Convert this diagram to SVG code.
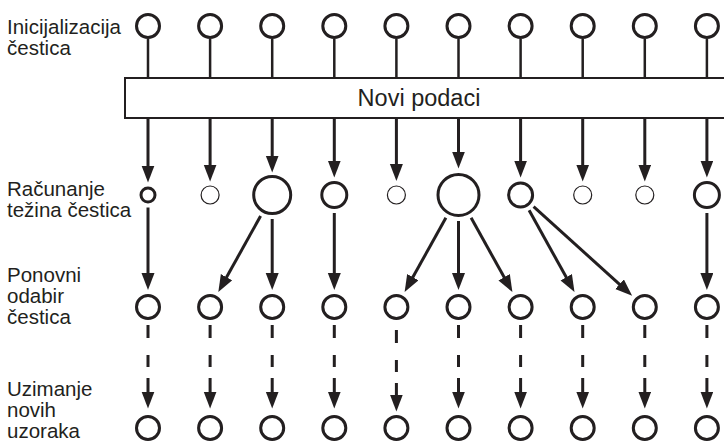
<svg xmlns="http://www.w3.org/2000/svg" width="724" height="444" viewBox="0 0 724 444">
<style>
.lbl{font-family:"Liberation Sans",Arial,sans-serif;font-size:20.5px;fill:#231f20}
.box{fill:#fff;stroke:#231f20;stroke-width:2}
.boxt{font-family:"Liberation Sans",Arial,sans-serif;font-size:23.5px;fill:#231f20;text-anchor:middle}
.p{fill:#fff;stroke:#231f20;stroke-width:3}
.pt{fill:#fff;stroke:#231f20;stroke-width:1.2}
.c{stroke:#231f20;stroke-width:3;fill:none}
.cs{stroke:#231f20;stroke-width:2.5;fill:none}
.a{stroke:#231f20;stroke-width:3;fill:none;marker-end:url(#ah)}
.d{stroke:#231f20;stroke-width:3;fill:none;stroke-dasharray:13 17 12 11 60;marker-end:url(#ah)}
</style>
<defs>
<marker id="ah" markerUnits="userSpaceOnUse" markerWidth="18" markerHeight="14" refX="9" refY="6.5" orient="auto" viewBox="0 0 18 14">
<path d="M0,0 L17,6.5 L0,13 z" fill="#231f20"/>
</marker>
</defs>
<rect width="724" height="444" fill="#fff"/>
<g id="labels">
<text class="lbl" x="7" y="34">Inicijalizacija</text>
<text class="lbl" x="7" y="55">čestica</text>
<text class="lbl" x="7" y="196">Računanje</text>
<text class="lbl" x="7" y="217">težina čestica</text>
<text class="lbl" x="7" y="282">Ponovni</text>
<text class="lbl" x="7" y="303">odabir</text>
<text class="lbl" x="7" y="324">čestica</text>
<text class="lbl" x="7" y="396">Uzimanje</text>
<text class="lbl" x="7" y="417">novih</text>
<text class="lbl" x="7" y="438">uzoraka</text>
</g>
<g id="connectors">
<path class="cs" d="M148,39V78M210.1,39V78M272.2,39V78M334.3,39V78M396.4,39V78M458.5,39V78M520.6,39V78M582.7,39V78M644.8,39V78M706.9,39V78"/>
<line class="a" x1="148" y1="118" x2="148" y2="174.5"/>
<line class="a" x1="210.1" y1="118" x2="210.1" y2="173.5"/>
<line class="a" x1="272.2" y1="118" x2="272.2" y2="164.5"/>
<line class="a" x1="334.3" y1="118" x2="334.3" y2="169.5"/>
<line class="a" x1="396.4" y1="118" x2="396.4" y2="173"/>
<line class="a" x1="458.5" y1="118" x2="458.5" y2="160.5"/>
<line class="a" x1="520.6" y1="118" x2="520.6" y2="169.5"/>
<line class="a" x1="582.7" y1="118" x2="582.7" y2="173.5"/>
<line class="a" x1="644.8" y1="118" x2="644.8" y2="173.5"/>
<line class="a" x1="706.9" y1="118" x2="706.9" y2="169.5"/>
<line class="a" x1="148" y1="207.5" x2="148" y2="282"/>
<line class="a" x1="260.6" y1="216" x2="222.2" y2="285.1"/>
<line class="a" x1="272.2" y1="219" x2="272.2" y2="282"/>
<line class="a" x1="334.3" y1="213" x2="334.3" y2="282"/>
<line class="a" x1="445.9" y1="217.7" x2="408.5" y2="285.1"/>
<line class="a" x1="458.5" y1="221" x2="458.5" y2="282"/>
<line class="a" x1="471.1" y1="217.7" x2="508.5" y2="285.1"/>
<line class="a" x1="529.1" y1="210.3" x2="570.6" y2="285.1"/>
<line class="a" x1="533.6" y1="206.7" x2="626.2" y2="290.3"/>
<line class="a" x1="706.9" y1="213" x2="706.9" y2="282"/>
<line class="d" x1="148" y1="325" x2="148" y2="400.5"/>
<line class="d" x1="210.1" y1="325" x2="210.1" y2="400.5"/>
<line class="d" x1="272.2" y1="325" x2="272.2" y2="400.5"/>
<line class="d" x1="334.3" y1="325" x2="334.3" y2="400.5"/>
<line class="d" x1="396.4" y1="330" x2="396.4" y2="403.5"/>
<line class="d" x1="458.5" y1="325" x2="458.5" y2="400.5"/>
<line class="d" x1="520.6" y1="325" x2="520.6" y2="400.5"/>
<line class="d" x1="582.7" y1="325" x2="582.7" y2="400.5"/>
<line class="d" x1="644.8" y1="325" x2="644.8" y2="400.5"/>
<line class="d" x1="706.9" y1="325" x2="706.9" y2="400.5"/>
</g>
<g id="novi-podaci">
<rect class="box" x="125" y="78" width="610" height="40"/>
<text class="boxt" x="419" y="106">Novi podaci</text>
</g>
<g id="init">
<circle class="p" cx="148" cy="26" r="11.5"/>
<circle class="p" cx="210.1" cy="26" r="11.5"/>
<circle class="p" cx="272.2" cy="26" r="11.5"/>
<circle class="p" cx="334.3" cy="26" r="11.5"/>
<circle class="p" cx="396.4" cy="26" r="11.5"/>
<circle class="p" cx="458.5" cy="26" r="11.5"/>
<circle class="p" cx="520.6" cy="26" r="11.5"/>
<circle class="p" cx="582.7" cy="26" r="11.5"/>
<circle class="p" cx="644.8" cy="26" r="11.5"/>
<circle class="p" cx="706.9" cy="26" r="11.5"/>
</g>
<g id="weights">
<circle class="p" cx="148" cy="195" r="7"/>
<circle class="pt" cx="210.1" cy="195" r="9"/>
<circle class="p" cx="272.2" cy="195" r="18.5"/>
<circle class="p" cx="334.3" cy="195" r="12.5"/>
<circle class="pt" cx="396.4" cy="195" r="9"/>
<circle class="p" cx="458.5" cy="195" r="20.5"/>
<circle class="p" cx="520.6" cy="195" r="12"/>
<circle class="pt" cx="582.7" cy="195" r="9"/>
<circle class="pt" cx="644.8" cy="195" r="9"/>
<circle class="p" cx="706.9" cy="195" r="12.5"/>
</g>
<g id="resampled">
<circle class="p" cx="148" cy="307" r="11.5"/>
<circle class="p" cx="210.1" cy="307" r="11.5"/>
<circle class="p" cx="272.2" cy="307" r="11.5"/>
<circle class="p" cx="334.3" cy="307" r="11.5"/>
<circle class="p" cx="396.4" cy="307" r="11.5"/>
<circle class="p" cx="458.5" cy="307" r="11.5"/>
<circle class="p" cx="520.6" cy="307" r="11.5"/>
<circle class="p" cx="582.7" cy="307" r="11.5"/>
<circle class="p" cx="644.8" cy="307" r="11.5"/>
<circle class="p" cx="706.9" cy="307" r="11.5"/>
</g>
<g id="new-samples">
<circle class="p" cx="148" cy="428" r="11.5"/>
<circle class="p" cx="210.1" cy="428" r="11.5"/>
<circle class="p" cx="272.2" cy="428" r="11.5"/>
<circle class="p" cx="334.3" cy="428" r="11.5"/>
<circle class="p" cx="396.4" cy="428" r="11.5"/>
<circle class="p" cx="458.5" cy="428" r="11.5"/>
<circle class="p" cx="520.6" cy="428" r="11.5"/>
<circle class="p" cx="582.7" cy="428" r="11.5"/>
<circle class="p" cx="644.8" cy="428" r="11.5"/>
<circle class="p" cx="706.9" cy="428" r="11.5"/>
</g>
</svg>
